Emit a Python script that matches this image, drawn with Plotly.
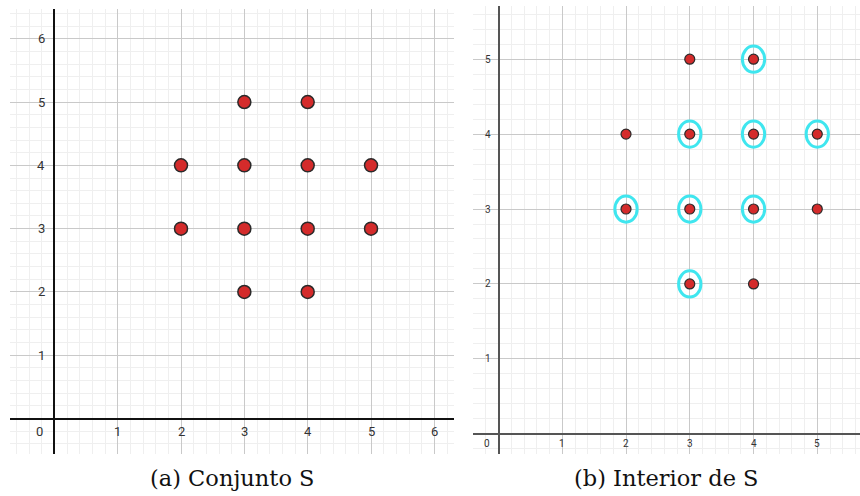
import plotly.graph_objects as go

# ---- data ----
s_x = [3, 4, 2, 3, 4, 5, 2, 3, 4, 5, 3, 4]
s_y = [5, 5, 4, 4, 4, 4, 3, 3, 3, 3, 2, 2]
interior_x = [4, 3, 4, 5, 2, 3, 4, 3]
interior_y = [5, 4, 4, 4, 3, 3, 3, 2]
left_xticks = [1, 2, 3, 4, 5, 6]
left_yticks = [1, 2, 3, 4, 5, 6]
right_xticks = [1, 2, 3, 4, 5]
right_yticks = [1, 2, 3, 4, 5]
captions = ["(a) Conjunto S", "(b) Interior de S"]

W, H = 860, 496
RED = "#D42B2B"
CYAN = "#3FE6EF"
MAJOR = "#c9c9c9"
MINOR = "#efefef"

fig = go.Figure()

fig.add_trace(go.Scatter(x=s_x, y=s_y, mode="markers", xaxis="x", yaxis="y",
                         marker=dict(size=13, color=RED, line=dict(color="#2a2a2a", width=1.5)),
                         hoverinfo="skip", showlegend=False))
fig.add_trace(go.Scatter(x=s_x, y=s_y, mode="markers", xaxis="x2", yaxis="y2",
                         marker=dict(size=10, color=RED, line=dict(color="#2a2a2a", width=1.2)),
                         hoverinfo="skip", showlegend=False))

def ax(domain, rng, anchor, zlc, zlw):
    return dict(domain=domain, range=rng, anchor=anchor, tick0=0, dtick=1,
                showgrid=True, gridcolor=MAJOR, gridwidth=1,
                minor=dict(tick0=0, dtick=0.2, showgrid=True, gridcolor=MINOR, gridwidth=1),
                zeroline=True, zerolinecolor=zlc, zerolinewidth=zlw,
                showticklabels=False, ticks="", showline=False, fixedrange=True)

ly0, ly1 = (H - 454) / H, (H - 9) / H
ry0, ry1 = (H - 454) / H, (H - 6) / H
fig.update_layout(
    width=W, height=H, margin=dict(l=0, r=0, t=0, b=0),
    paper_bgcolor="white", plot_bgcolor="white",
    xaxis=ax([10 / W, 454 / W], [-0.70, 6.31], "y", "#111111", 1.6),
    yaxis=ax([ly0, ly1], [-0.56, 6.47], "x", "#111111", 1.6),
    xaxis2=ax([473 / W, 1.0], [-0.40, 5.67], "y2", "#555555", 2),
    yaxis2=ax([ry0, ry1], [-0.27, 5.71], "x2", "#555555", 2),
)

# cyan circles around interior points
r = 0.175
for x, y in zip(interior_x, interior_y):
    fig.add_shape(type="circle", xref="x2", yref="y2",
                  x0=x - r, x1=x + r, y0=y - r, y1=y + r,
                  line=dict(color=CYAN, width=3))

ann = []
lf = dict(family="Roboto, sans-serif", size=13, color="#333333")
rf = dict(family="Roboto, sans-serif", size=10, color="#333333")
for t in left_xticks:
    ann.append(dict(x=t, y=0, xref="x", yref="y", text=str(t), showarrow=False,
                    xanchor="center", yshift=-13, font=lf))
for t in left_yticks:
    ann.append(dict(x=0, y=t, xref="x", yref="y", text=str(t), showarrow=False,
                    xanchor="right", xshift=-7, font=lf))
ann.append(dict(x=0, y=0, xref="x", yref="y", text="0", showarrow=False,
                xanchor="right", xshift=-9, yshift=-13, font=lf))
for t in right_xticks:
    ann.append(dict(x=t, y=0, xref="x2", yref="y2", text=str(t), showarrow=False,
                    xanchor="center", yshift=-10, font=rf))
for t in right_yticks:
    ann.append(dict(x=0, y=t, xref="x2", yref="y2", text=str(t), showarrow=False,
                    xanchor="right", xshift=-6, font=rf))
ann.append(dict(x=0, y=0, xref="x2", yref="y2", text="0", showarrow=False,
                xanchor="right", xshift=-7, yshift=-10, font=rf))

cf = dict(family="DejaVu Serif, serif", size=22.5, color="#111111")
ann.append(dict(x=(10 + 454) / 2 / W, y=(H - 478) / H, xref="paper", yref="paper",
                text=captions[0], showarrow=False, font=cf,
                xanchor="center", yanchor="middle"))
ann.append(dict(x=(473 + 860) / 2 / W, y=(H - 478) / H, xref="paper", yref="paper",
                text=captions[1], showarrow=False, font=cf,
                xanchor="center", yanchor="middle"))
fig.update_layout(annotations=ann)

fig.write_html("out.html")
